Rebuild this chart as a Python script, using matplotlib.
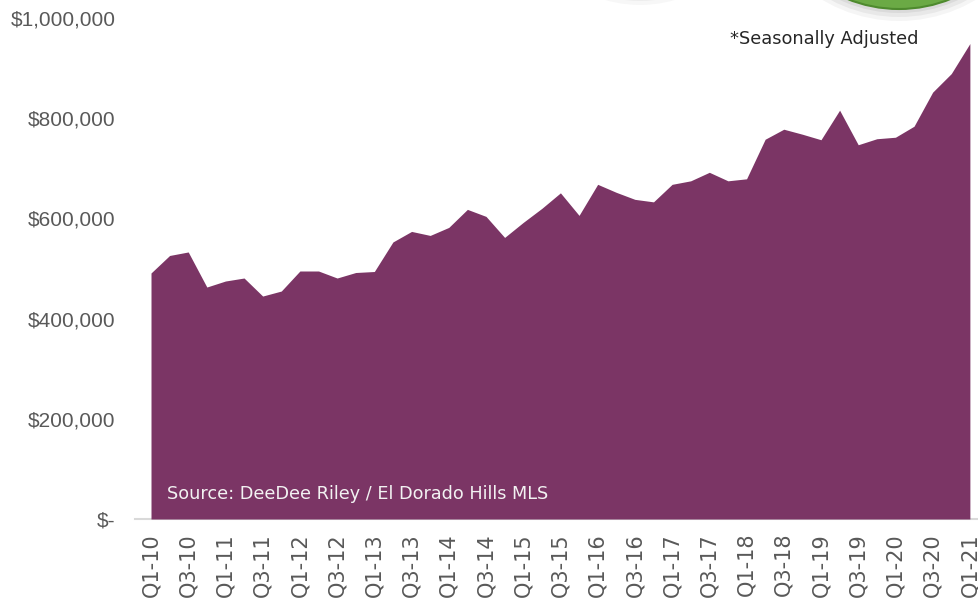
import matplotlib
matplotlib.use("Agg")
import matplotlib.pyplot as plt
from matplotlib.patches import Ellipse
from matplotlib.ticker import FuncFormatter

quarters = [f"Q{q}-{y}" for y in range(10, 21) for q in (1, 2, 3, 4)] + ["Q1-21"]
values = [491000, 526000, 533000, 463000, 475000, 481000, 445000, 455000,
          495000, 495000, 481000, 492000, 494000, 553000, 574000, 566000,
          582000, 618000, 604000, 562000, 592000, 620000, 651000, 606000,
          668000, 652000, 638000, 633000, 668000, 675000, 692000, 675000,
          679000, 758000, 778000, 768000, 757000, 816000, 747000, 759000,
          762000, 784000, 852000, 889000, 949000]
yticks = [0, 200000, 400000, 600000, 800000, 1000000]

purple = "#7B3565"
gray = "#595959"

fig = plt.figure(figsize=(9.79, 6.06), dpi=100)
ax = fig.add_axes([135/979, 87/606, 844/979, 501/606])
x = list(range(len(values)))
ax.fill_between(x, values, 0, color=purple, linewidth=0, zorder=2)
ax.set_xlim(-0.86, 44.49)
ax.set_ylim(0, 1000000)

for s in ("top", "right", "left"):
    ax.spines[s].set_visible(False)
ax.spines["bottom"].set_color("#D9D9D9")
ax.spines["bottom"].set_linewidth(1.5)
ax.spines["bottom"].set_zorder(1)

ax.set_yticks(yticks)
ax.yaxis.set_major_formatter(FuncFormatter(lambda v, p: "$-" if v == 0 else f"${v:,.0f}"))
ax.tick_params(axis="y", length=0, pad=14, labelsize=15, labelcolor=gray)
for lab in ax.get_yticklabels():
    lab.set_family("Liberation Sans")

ax.set_xticks(x[::2])
ax.set_xticklabels(quarters[::2], rotation=90, fontsize=15, color=gray, family="DejaVu Sans")
ax.tick_params(axis="x", length=0, pad=10)

ax.text((167 - 135)/844, 0.05, "Source: DeeDee Riley / El Dorado Hills MLS",
        transform=ax.transAxes, color="#F2F2F2", fontsize=12.7, va="center", ha="left", zorder=5)

fig.text(824/979, 1 - 39/606, "*Seasonally Adjusted", ha="center", va="center",
         fontsize=12.8, color="#262626")

# decorative badge (partially visible)
for i, a in enumerate([0.04, 0.05, 0.06]):
    fig.patches.append(Ellipse((899/979, 1 + 129/606), 2*(150 - 4*i)/979, 2*(150 - 4*i)/606,
                               transform=fig.transFigure, color="#000000", alpha=a, lw=0))
fig.patches.append(Ellipse((899/979, 1 + 129/606), 2*138/979, 2*138/606,
                           transform=fig.transFigure, facecolor="#6BAA45",
                           edgecolor="#4E8A2E", lw=1.5))
for i, a in enumerate([0.03, 0.04]):
    fig.patches.append(Ellipse((640/979, 1 + 120/606), 2*(125 - 4*i)/979, 2*(125 - 4*i)/606,
                               transform=fig.transFigure, color="#000000", alpha=a, lw=0))
fig.patches.append(Ellipse((640/979, 1 + 120/606), 2*117/979, 2*117/606,
                           transform=fig.transFigure, color="white", lw=0))

fig.savefig("out.png", dpi=100)
